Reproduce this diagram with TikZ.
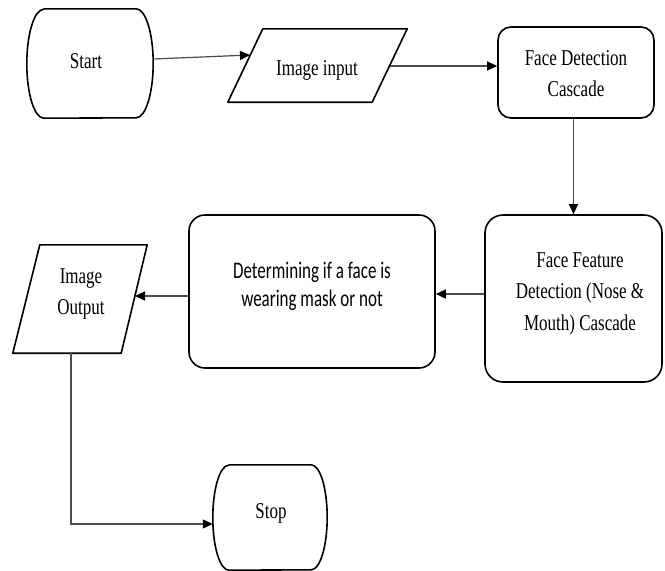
\documentclass[tikz,border=0pt]{standalone}
\usepackage{fontspec}
\usepackage{graphicx}
\setmainfont{Liberation Serif}
\newfontfamily\calib{Carlito}
\usetikzlibrary{arrows.meta}
\newcommand{\vstretch}[2]{\scalebox{1}[#1]{#2}}
\begin{document}
\begin{tikzpicture}[x=1pt,y=1pt,
  box/.style={draw=black, line width=1.6pt, rounded corners=13pt, inner sep=0pt},
  ghost/.style={draw=none, inner sep=0pt},
  outline/.style={draw=black, line width=1.6pt, line join=round},
  conn/.style={draw=black!70, line width=1.2pt, -{Triangle[length=10pt,width=9pt,color=black]}},
  txt/.style={anchor=base, inner sep=0pt, font=\fontsize{17}{23.7}\selectfont},
  dtxt/.style={anchor=base, inner sep=0pt, font=\calib\fontsize{17}{20.7}\selectfont},
]
\useasboundingbox[fill=white] (0,0) rectangle (665,-571);

% Start terminal
\node[ghost, minimum width=126pt, minimum height=109pt] (st) at (90,-63.5) {};
\draw[outline] ([xshift=17]st.north west) -- ([xshift=-17]st.north east)
  arc[start angle=90,end angle=-90,x radius=17pt,y radius=54.5pt]
  -- ([xshift=17]st.south west)
  arc[start angle=270,end angle=90,x radius=17pt,y radius=54.5pt] -- cycle;
\node[txt] (stT) at (86,-68) {\vstretch{1.33}{Start}};

% Image input
\node[ghost, minimum width=179pt, minimum height=73pt] (in) at (317.5,-65.5) {};
\draw[outline] ([xshift=35]in.north west) -- (in.north east) -- ([xshift=-35]in.south east) -- (in.south west) -- cycle;
\node[txt] (inT) at (317,-75) {\vstretch{1.33}{Image input}};
\coordinate (inL) at (250,-55);
\coordinate (inR) at (390,-66);

% Face Detection Cascade
\node[box, minimum width=156pt, minimum height=91pt] (fd) at (576,-72.5) {};
\node[txt] (fdT) at (576,-65) {\vstretch{1.33}{\begin{tabular}[t]{@{}c@{}}Face Detection\\Cascade\end{tabular}}};

% Face Feature Detection
\node[box, minimum width=177pt, minimum height=167pt, rounded corners=18pt] (ff) at (573.5,-298.5) {};
\node[txt] (ffT) at (580,-267) {\vstretch{1.33}{\begin{tabular}[t]{@{}c@{}}Face Feature\\Detection (Nose \&\\Mouth) Cascade\end{tabular}}};

% Determining
\node[box, minimum width=246pt, minimum height=153pt, rounded corners=16pt] (det) at (312,-291.5) {};
\node[dtxt] (detT) at (312,-278) {\vstretch{1.4}{\begin{tabular}[t]{@{}c@{}}Determining if a face is\\wearing mask or not\end{tabular}}};

% Image Output
\node[ghost, minimum width=134pt, minimum height=108pt] (out) at (80,-299) {};
\draw[outline] ([xshift=27]out.north west) -- (out.north east) -- ([xshift=-26]out.south east) -- (out.south west) -- cycle;
\node[txt] (outT) at (81,-283) {\vstretch{1.33}{\begin{tabular}[t]{@{}c@{}}Image\\Output\end{tabular}}};
\coordinate (outR) at (135,-296);
\coordinate (outB) at (71,-353);

% Stop terminal
\node[ghost, minimum width=114pt, minimum height=105pt] (sp) at (270,-517.5) {};
\draw[outline] ([xshift=16]sp.north west) -- ([xshift=-16]sp.north east)
  arc[start angle=90,end angle=-90,x radius=16pt,y radius=52.5pt]
  -- ([xshift=16]sp.south west)
  arc[start angle=270,end angle=90,x radius=16pt,y radius=52.5pt] -- cycle;
\node[txt] (spT) at (271,-518) {\vstretch{1.33}{Stop}};

% connectors
\draw[conn] ([yshift=4.5]st.east) -- (inL);
\draw[conn] (inR) -- (inR -| fd.west);
\draw[conn] (ff.north |- fd.south) -- (ff.north);
\draw[conn] ([yshift=4.5]ff.west) -- ([yshift=-2.5]det.east);
\draw[conn] ([yshift=-4.5]det.west) -- (outR);
\draw[conn] (outB) |- ([yshift=-6.5]sp.west);
\end{tikzpicture}
\end{document}
